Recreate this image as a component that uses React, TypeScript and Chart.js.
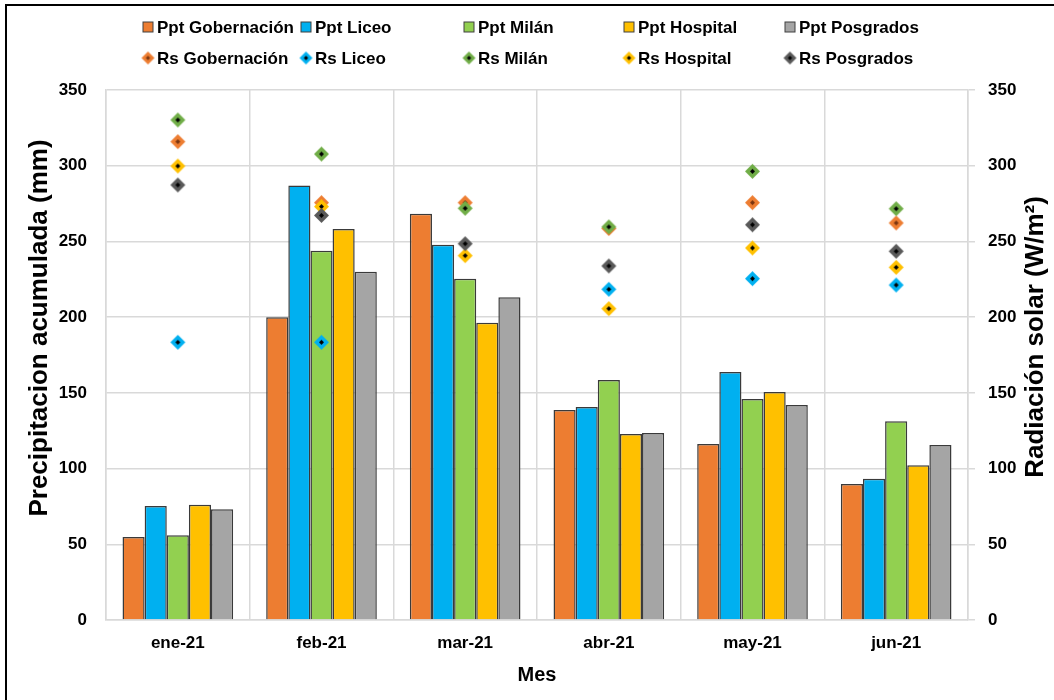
import React, { useEffect, useRef } from 'react';
import { Chart, registerables } from 'chart.js';

Chart.register(...registerables);

const months = ['ene-21', 'feb-21', 'mar-21', 'abr-21', 'may-21', 'jun-21'];
const stations = ['Gobernación', 'Liceo', 'Milán', 'Hospital', 'Posgrados'];

const pptGobernacion = [54.8, 199.9, 268.3, 138.7, 116.2, 89.8];
const pptLiceo = [75.3, 287.0, 247.8, 140.7, 163.8, 93.3];
const pptMilan = [55.9, 243.9, 225.4, 158.5, 145.9, 131.2];
const pptHospital = [76.1, 258.2, 196.3, 122.8, 150.6, 102.2];
const pptPosgrados = [73.1, 230.0, 213.1, 123.5, 142.0, 115.6];

const rsGobernacion = [315.9, 275.6, 275.6, 258.5, 275.6, 262.2];
const rsLiceo = [183.4, 183.4, null, 218.4, 225.4, 221.2];
const rsMilan = [330.2, 307.7, 271.9, 259.6, 296.3, 271.6];
const rsHospital = [299.8, 273.0, 240.6, 205.6, 245.7, 232.9];
const rsPosgrados = [287.3, 267.2, 248.5, 233.8, 261.0, 243.5];

const yMin = 0;
const yMax = 350;
const yStep = 50;

const xTitle = 'Mes';
const yTitle = 'Precipitacion acumulada (mm)';
const y1Title = 'Radiación solar (W/m²)';

const barColors = ['#ED7D31', '#00B0F0', '#92D050', '#FFC000', '#A5A5A5'];
const markerColors = ['#ED7D31', '#00B0F0', '#70AD47', '#FFC000', '#595959'];
const markerCenters = ['#7a3510', '#000000', '#000000', '#000000', '#000000'];

const FONT = "'Liberation Sans', Arial, sans-serif";

function makeDiamond(color: string, center: string, half: number): HTMLCanvasElement {
  const size = half * 2 + 2;
  const c = document.createElement('canvas');
  c.width = size;
  c.height = size;
  const ctx = c.getContext('2d')!;
  const m = size / 2;
  ctx.beginPath();
  ctx.moveTo(m, m - half);
  ctx.lineTo(m + half, m);
  ctx.lineTo(m, m + half);
  ctx.lineTo(m - half, m);
  ctx.closePath();
  ctx.fillStyle = color;
  ctx.fill();
  const h2 = Math.max(2.2, half * 0.33);
  ctx.beginPath();
  ctx.moveTo(m, m - h2);
  ctx.lineTo(m + h2, m);
  ctx.lineTo(m, m + h2);
  ctx.lineTo(m - h2, m);
  ctx.closePath();
  ctx.fillStyle = center;
  ctx.fill();
  return c;
}

const legendCols = [148, 306, 469, 629, 790];
const legendRows = [27, 58];

const customPlugin = {
  id: 'customDecor',
  afterDraw(chart: any) {
    const ctx = chart.ctx;
    ctx.save();
    // Legend
    ctx.font = `bold 17px ${FONT}`;
    ctx.textBaseline = 'middle';
    ctx.textAlign = 'left';
    chart.data.datasets.forEach((ds: any, i: number) => {
      const row = i < 5 ? 0 : 1;
      const col = i % 5;
      const x = legendCols[col];
      const y = legendRows[row];
      if (row === 0) {
        ctx.fillStyle = ds.backgroundColor;
        ctx.fillRect(x - 5, y - 5, 10, 10);
        ctx.strokeStyle = '#404040';
        ctx.lineWidth = 1;
        ctx.strokeRect(x - 5, y - 5, 10, 10);
      } else {
        const img = ds.legendImage as HTMLCanvasElement;
        ctx.drawImage(img, x - img.width / 2, y - img.height / 2);
      }
      ctx.fillStyle = '#000';
      ctx.fillText(ds.label, x + 9, y + 1);
    });
    // Rotated axis titles
    ctx.font = `bold 26px ${FONT}`;
    ctx.textAlign = 'center';
    ctx.textBaseline = 'middle';
    ctx.fillStyle = '#000';
    ctx.save();
    ctx.translate(40, 328);
    ctx.rotate(-Math.PI / 2);
    ctx.fillText(yTitle, 0, 0);
    ctx.restore();
    ctx.save();
    ctx.translate(1036, 337);
    ctx.rotate(-Math.PI / 2);
    ctx.fillText(y1Title, 0, 0);
    ctx.restore();
    ctx.restore();
  },
};

export default function App() {
  const ref = useRef<HTMLCanvasElement>(null);

  useEffect(() => {
    if (!ref.current) return;
    const pptSeries = [pptGobernacion, pptLiceo, pptMilan, pptHospital, pptPosgrados];
    const rsSeries = [rsGobernacion, rsLiceo, rsMilan, rsHospital, rsPosgrados];

    const barSets = stations.map((s, i) => ({
      type: 'bar' as const,
      label: `Ppt ${s}`,
      data: pptSeries[i],
      backgroundColor: barColors[i],
      borderColor: '#3a3a3a',
      borderWidth: 1.5,
      yAxisID: 'y',
      order: 20,
      categoryPercentage: 0.77,
      barPercentage: 1.0,
    }));

    const rsSets = stations.map((s, i) => {
      const img = makeDiamond(markerColors[i], markerCenters[i], 7.5);
      const legendImg = makeDiamond(markerColors[i], markerCenters[i], 6.5);
      return {
        type: 'line' as const,
        label: `Rs ${s}`,
        data: rsSeries[i],
        showLine: false,
        pointStyle: img,
        pointRadius: 8,
        pointHoverRadius: 8,
        backgroundColor: markerColors[i],
        borderColor: markerColors[i],
        yAxisID: 'y1',
        order: 14 - i,
        legendImage: legendImg,
      };
    });

    const tickFont = { family: FONT, size: 17, weight: 'bold' };

    const chart = new Chart(ref.current, {
      type: 'bar',
      data: {
        labels: months,
        datasets: [...barSets, ...rsSets] as any,
      },
      options: {
        animation: false,
        responsive: true,
        maintainAspectRatio: false,
        layout: { padding: { top: 90, left: 0, right: 0, bottom: 0 } },
        plugins: {
          legend: { display: false },
          tooltip: { enabled: false },
        },
        scales: {
          x: {
            type: 'category',
            offset: true,
            grid: { display: true, offset: true, color: '#d9d9d9', lineWidth: 1.5, drawTicks: false },
            border: { display: true, color: '#d9d9d9', width: 1.5 },
            ticks: { color: '#000', font: tickFont, padding: 13 },
            title: {
              display: true,
              text: xTitle,
              color: '#000',
              font: { family: FONT, size: 20, weight: 'bold' },
              padding: { top: 4, bottom: 13 },
            },
            afterFit: (scale: any) => {
              scale.height = 80;
            },
          },
          y: {
            position: 'left',
            min: yMin,
            max: yMax,
            ticks: {
              stepSize: yStep,
              color: '#000',
              font: tickFont,
              padding: 19,
            },
            grid: { color: '#d9d9d9', lineWidth: 1.5, drawTicks: false },
            border: { display: true, color: '#d9d9d9', width: 1.5 },
            afterFit: (scale: any) => {
              scale.width = 106;
            },
          },
          y1: {
            position: 'right',
            min: yMin,
            max: yMax,
            ticks: {
              stepSize: yStep,
              color: '#000',
              font: tickFont,
              padding: 13,
            },
            grid: { drawOnChartArea: false, drawTicks: true, tickLength: 7, color: '#d9d9d9', lineWidth: 1.5 },
            border: { display: true, color: '#d9d9d9', width: 1.5 },
            afterFit: (scale: any) => {
              scale.width = 86;
            },
          },
        },
      } as any,
      plugins: [customPlugin],
    });
    return () => chart.destroy();
  }, []);

  return (
    <div style={{ position: 'absolute', left: 0, top: 0, width: 1054, height: 700, background: '#fff', overflow: 'hidden' }}>
      <canvas ref={ref} />
      <div
        style={{
          position: 'absolute',
          left: 5,
          top: 4,
          width: 1100,
          height: 800,
          borderLeft: '2.5px solid #000',
          borderTop: '2.5px solid #000',
          pointerEvents: 'none',
        }}
      />
    </div>
  );
}
